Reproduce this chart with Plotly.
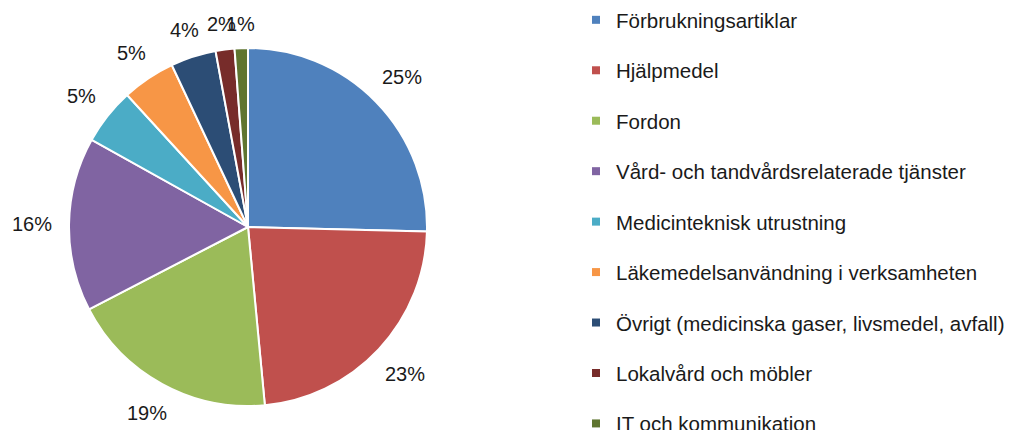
import math
import plotly.graph_objects as go

categories = [
    "Förbrukningsartiklar",
    "Hjälpmedel",
    "Fordon",
    "Vård- och tandvårdsrelaterade tjänster",
    "Medicinteknisk utrustning",
    "Läkemedelsanvändning i verksamheten",
    "Övrigt (medicinska gaser, livsmedel, avfall)",
    "Lokalvård och möbler",
    "IT och kommunikation",
]
shares = [25.4, 23.1, 18.9, 15.7, 5.1, 4.8, 4.1, 1.7, 1.2]
colors = ["#4F81BD", "#C0504D", "#9BBB59", "#8064A2", "#4BACC6",
          "#F79646", "#2C4D75", "#772C2A", "#5F7530"]

W, H = 1019, 430
PAGE_OFF = 8  # default page body margin shifts the figure by 8px
cx, cy, r = 248 - PAGE_OFF, 227 - PAGE_OFF, 179
FONT = "Liberation Sans, Arial"
TXT = "#1a1a1a"
LBL_SIZE = 20

fig = go.Figure()
fig.add_trace(go.Pie(
    labels=categories,
    values=shares,
    sort=False,
    direction="clockwise",
    rotation=0,
    marker=dict(colors=colors, line=dict(color="white", width=2)),
    textposition="none",
    showlegend=False,
    hoverinfo="label+percent",
    domain=dict(x=[(cx - r) / W, (cx + r) / W], y=[1 - (cy + r) / H, 1 - (cy - r) / H]),
))

# percentage labels placed outside each slice (Excel-style, no leader lines)
total = sum(shares)
cum = 0.0
for v in shares:
    mid = (cum + v / 2) / total * 2 * math.pi
    cum += v
    text = f"{round(v / total * 100)}%"
    ndig = len(text) - 1
    hw = (0.556 * ndig + 0.889) * LBL_SIZE / 2
    hh = 7
    s, c = math.sin(mid), math.cos(mid)
    d = r + 17 + hw * abs(s) + hh * abs(c)
    px = cx + d * s
    py = cy - d * c
    fig.add_annotation(
        x=px / W, y=1 - py / H, xref="paper", yref="paper",
        text=text, showarrow=False, xanchor="center", yanchor="middle",
        font=dict(family=FONT, size=LBL_SIZE, color=TXT),
    )

for i, (name, col) in enumerate(zip(categories, colors)):
    fig.add_trace(go.Scatter(
        x=[None], y=[None], mode="markers", name=name,
        marker=dict(symbol="square", size=8, color=col),
        legendgroup=f"g{i}", showlegend=True,
    ))

fig.update_layout(
    width=W, height=H,
    margin=dict(l=0, r=0, t=0, b=0, autoexpand=False),
    paper_bgcolor="white", plot_bgcolor="white",
    xaxis=dict(visible=False), yaxis=dict(visible=False),
    legend=dict(
        x=568 / W, y=1 + 8 / H, xanchor="left", yanchor="top",
        font=dict(family=FONT, size=20.5, color=TXT),
        tracegroupgap=20.8, itemwidth=30, maxheight=600,
        bgcolor="rgba(0,0,0,0)",
    ),
)

fig.write_html("out.html")
